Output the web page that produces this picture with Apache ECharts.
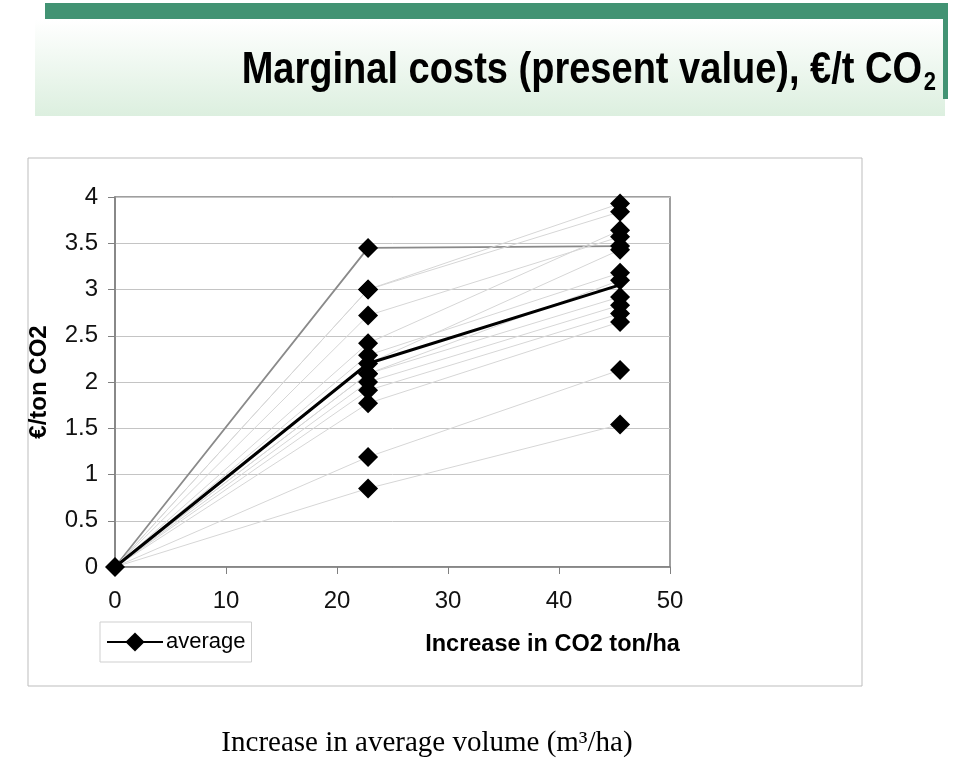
<!DOCTYPE html>
<html>
<head>
<meta charset="utf-8">
<title>Marginal costs</title>
<script src="https://cdn.jsdelivr.net/npm/echarts@6/dist/echarts.min.js"></script>
<style>
  html, body { margin: 0; padding: 0; background: #fff; }
  #chart { width: 960px; height: 760px; }
</style>
</head>
<body>
<div id="chart"></div>
<script>
  // x positions of the two measurement steps (CO2 ton/ha)
  const xSteps = [0, 22.8, 45.5]
  // each stand: cost at step 1 and step 2 (€/ton CO2)
  const firstStep = [3.45, 3.00, 3.00, 2.72, 2.42, 2.29, 2.20, 2.09, 2.09, 2.00, 1.91, 1.77, 1.19, 0.85]
  const secondStep = [3.47, 3.93, 3.84, 3.57, 3.64, 3.18, 3.43, 2.92, 3.10, 2.83, 2.74, 2.65, 2.13, 1.54]
  const average = [0, 2.20, 3.05]
  const yTicks = [0, 0.5, 1, 1.5, 2, 2.5, 3, 3.5, 4]
  const xTicks = [0, 10, 20, 30, 40, 50]

  const chart = echarts.init(document.getElementById('chart'))

  const standSeries = firstStep.map(function (v, i) {
    return {
      name: 'stand ' + (i + 1),
      type: 'line',
      data: [[xSteps[0], 0], [xSteps[1], v], [xSteps[2], secondStep[i]]],
      showSymbol: false,
      symbol: 'none',
      silent: true,
      z: 2,
      lineStyle: { color: i === 0 ? '#8a8a8a' : '#d6d6d6', width: i === 0 ? 1.8 : 1 }
    }
  })

  // all stand points as black diamonds drawn over the lines
  const points = [[xSteps[0], 0]]
  firstStep.forEach(function (v) { points.push([xSteps[1], v]) })
  secondStep.forEach(function (v) { points.push([xSteps[2], v]) })

  chart.setOption({
    animation: false,
    textStyle: { fontFamily: 'Liberation Sans, Arial, sans-serif' },
    graphic: [
      {
        type: 'rect', z: -10,
        shape: { x: 35, y: 20, width: 910, height: 96 },
        style: {
          fill: new echarts.graphic.LinearGradient(0, 0, 0, 1, [
            { offset: 0, color: '#ffffff' },
            { offset: 1, color: '#dcefdf' }
          ])
        }
      },
      {
        type: 'rect', z: -9,
        shape: { x: 45, y: 3, width: 903, height: 16 },
        style: { fill: '#429373' }
      },
      {
        type: 'rect', z: -9,
        shape: { x: 943, y: 3, width: 5, height: 96 },
        style: { fill: '#429373' }
      },
      {
        // title, condensed like the original narrow font
        type: 'text', z: 10,
        x: 936, y: 71, scaleX: 0.845,
        style: {
          text: 'Marginal costs (present value), €/t CO{sub|2}',
          fontFamily: 'Liberation Sans, Arial, sans-serif',
          fontWeight: 'bold',
          fontSize: 45,
          fill: '#000',
          align: 'right',
          verticalAlign: 'middle',
          rich: {
            sub: {
              fontFamily: 'Liberation Sans, Arial, sans-serif',
              fontWeight: 'bold',
              fontSize: 26,
              fill: '#000',
              padding: [24, 0, 0, 2]
            }
          }
        }
      },
      {
        type: 'rect', z: -10,
        shape: { x: 28, y: 158, width: 834, height: 528 },
        style: { fill: 'none', stroke: '#bdbdbd', lineWidth: 1 }
      },
      {
        type: 'text', x: 427, y: 743,
        style: {
          text: 'Increase in average volume (m³/ha)',
          fontFamily: 'Liberation Serif, Times New Roman, serif',
          fontSize: 29,
          fill: '#000',
          align: 'center',
          verticalAlign: 'middle'
        }
      }
    ],
    legend: {
      data: ['average'],
      left: 100,
      top: 622,
      itemWidth: 56,
      itemHeight: 24,
      itemGap: 4,
      padding: [9, 6, 9, 6],
      borderColor: '#cfcfcf',
      borderWidth: 1,
      textStyle: { fontSize: 22, color: '#000', padding: [0, 0, 0, -2] }
    },
    grid: {
      left: 115, top: 197, width: 555, height: 370, containLabel: false,
      show: true, borderColor: '#808080', borderWidth: 1.5
    },
    xAxis: {
      type: 'value',
      min: xTicks[0],
      max: xTicks[xTicks.length - 1],
      interval: 10,
      name: 'Increase in CO2 ton/ha',
      nameLocation: 'middle',
      nameGap: 66,
      nameTextStyle: { fontSize: 23.5, fontWeight: 'bold', color: '#000', padding: [0, 0, 0, 320] },
      axisLine: { show: true, lineStyle: { color: '#808080', width: 1.5 } },
      axisTick: { show: true, inside: false, length: 7, lineStyle: { color: '#808080' } },
      axisLabel: { fontSize: 24, color: '#111', margin: 22 },
      splitLine: { show: false }
    },
    yAxis: {
      type: 'value',
      min: yTicks[0],
      max: yTicks[yTicks.length - 1],
      interval: 0.5,
      name: '€/ton CO2',
      nameLocation: 'middle',
      nameGap: 64,
      nameRotate: 90,
      nameTextStyle: { fontSize: 24, fontWeight: 'bold', color: '#000' },
      axisLine: { show: true, lineStyle: { color: '#808080', width: 1.5 } },
      axisTick: { show: true, inside: false, length: 7, lineStyle: { color: '#808080' } },
      axisLabel: { fontSize: 24, color: '#111', margin: 17 },
      splitLine: { show: true, lineStyle: { color: '#c4c4c4', width: 1 } }
    },
    series: standSeries.concat([
      {
        name: 'points',
        type: 'scatter',
        data: points,
        symbol: 'diamond',
        symbolSize: 20,
        silent: true,
        z: 4,
        itemStyle: { color: '#000', opacity: 1 }
      },
      {
        name: 'average',
        type: 'line',
        data: xSteps.map(function (x, i) { return [x, average[i]] }),
        symbol: 'diamond',
        symbolSize: 20,
        showSymbol: false,
        z: 3,
        itemStyle: { color: '#000' },
        lineStyle: { color: '#000', width: 3 }
      }
    ])
  })
</script>
</body>
</html>
